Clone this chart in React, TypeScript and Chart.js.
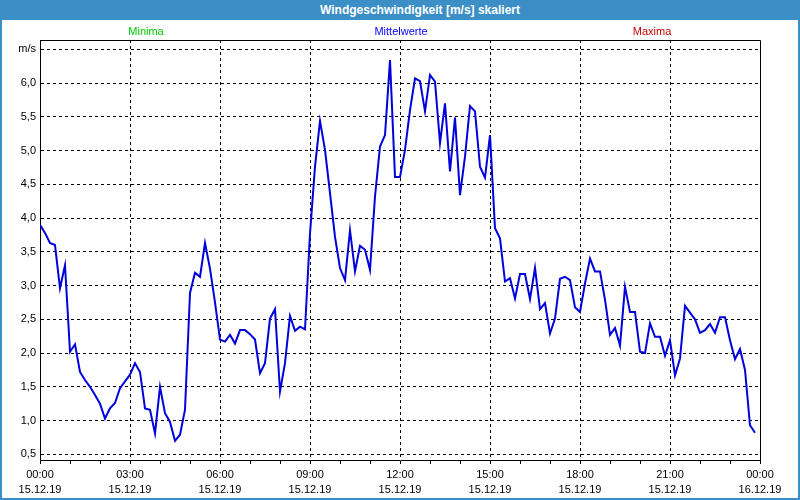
import React, { useEffect, useRef } from "react";
import { Chart, registerables } from "chart.js";

Chart.register(...registerables);

const chartTitle = "Windgeschwindigkeit [m/s] skaliert";
const legendNames = ["Minima", "Mittelwerte", "Maxima"];
const legendColors = ["#00c800", "#0000ff", "#c80000"];

// 10-minute means, 15.12.19 00:00 .. 23:50
const windValues = [
  3.9, 3.78, 3.63, 3.6, 2.96, 3.3, 2.02, 2.13, 1.72, 1.6, 1.5, 1.38,
  1.25, 1.03, 1.18, 1.26, 1.48, 1.58, 1.68, 1.85, 1.72, 1.18, 1.16, 0.81,
  1.5, 1.11, 0.98, 0.7, 0.79, 1.16, 2.89, 3.19, 3.13, 3.63, 3.25, 2.75,
  2.2, 2.17, 2.27, 2.14, 2.34, 2.34, 2.28, 2.2, 1.7, 1.85, 2.51, 2.65,
  1.43, 1.85, 2.55, 2.33, 2.39, 2.35, 3.77, 4.76, 5.44, 5.01, 4.37, 3.72,
  3.26, 3.08, 3.82, 3.21, 3.59, 3.53, 3.23, 4.32, 5.06, 5.23, 6.34, 4.61,
  4.61, 5.01, 5.6, 6.07, 6.03, 5.58, 6.12, 6.02, 5.11, 5.7, 4.69, 5.49,
  4.34, 4.91, 5.66, 5.58, 4.76, 4.6, 5.23, 3.85, 3.7, 3.06, 3.11, 2.81,
  3.17, 3.17, 2.8, 3.26, 2.65, 2.74, 2.29, 2.51, 3.1, 3.13, 3.08, 2.68,
  2.61, 3.03, 3.4, 3.21, 3.21, 2.79, 2.27, 2.37, 2.11, 2.98, 2.61, 2.61,
  2.02, 2.0, 2.44, 2.24, 2.24, 1.96, 2.19, 1.67, 1.92, 2.7, 2.6, 2.5,
  2.3, 2.34, 2.43, 2.3, 2.53, 2.53, 2.19, 1.91, 2.06, 1.75, 0.93, 0.82,
];
const minutesPerPoint = 10;

const xLabelTimes = ["00:00", "03:00", "06:00", "09:00", "12:00", "15:00", "18:00", "21:00", "00:00"];
const xLabelDates = ["15.12.19", "15.12.19", "15.12.19", "15.12.19", "15.12.19", "15.12.19", "15.12.19", "15.12.19", "16.12.19"];
const xHourTicks = Array.from({ length: 25 }, (_, i) => i);

const yTickValues = [0.5, 1, 1.5, 2, 2.5, 3, 3.5, 4, 4.5, 5, 5.5, 6, 6.5];
const yTickLabels = ["0,5", "1,0", "1,5", "2,0", "2,5", "3,0", "3,5", "4,0", "4,5", "5,0", "5,5", "6,0", "m/s"];

const FONT = "'Liberation Sans', Arial, sans-serif";
const FRAME_BLUE = "#3c8fc6";

const boxPlugin = {
  id: "frameBox",
  afterDraw(chart: any) {
    const { ctx, chartArea } = chart;
    const l = Math.round(chartArea.left) + 0.5;
    const r = Math.round(chartArea.right) + 0.5;
    const t = Math.round(chartArea.top) + 0.5;
    ctx.save();
    ctx.strokeStyle = "#000";
    ctx.lineWidth = 1;
    ctx.setLineDash([]);
    ctx.beginPath();
    ctx.moveTo(l, t);
    ctx.lineTo(r, t);
    ctx.lineTo(r, Math.round(chartArea.bottom) + 0.5);
    ctx.stroke();
    ctx.restore();
  },
};

export default function App() {
  const canvasRef = useRef<HTMLCanvasElement | null>(null);

  useEffect(() => {
    if (!canvasRef.current) return;
    const chart = new Chart(canvasRef.current, {
      type: "line",
      data: {
        datasets: [
          {
            label: legendNames[1],
            data: windValues.map((v, i) => ({ x: (i * minutesPerPoint) / 60, y: v })),
            borderColor: "#0000dd",
            backgroundColor: "#0000dd",
            borderWidth: 2,
            pointRadius: 0,
            tension: 0,
            fill: false,
          },
        ],
      },
      options: {
        animation: false,
        responsive: false,
        devicePixelRatio: 1,
        layout: { padding: { top: 40, right: 40, left: 0, bottom: 0 } },
        plugins: {
          legend: { display: false },
          title: { display: false },
          tooltip: { enabled: false },
        },
        scales: {
          x: {
            type: "linear",
            min: 0,
            max: 24,
            afterBuildTicks: (s: any) => {
              s.ticks = xHourTicks.map((v) => ({ value: v }));
            },
            afterFit: (s: any) => {
              s.height = 40;
            },
            ticks: {
              autoSkip: false,
              maxRotation: 0,
              minRotation: 0,
              padding: 3,
              color: "#000",
              font: { family: FONT, size: 11, lineHeight: 15 / 11 },
              callback: (v: any) => {
                const n = Number(v);
                if (n % 3 !== 0) return "";
                return [xLabelTimes[n / 3], xLabelDates[n / 3]];
              },
            },
            grid: {
              color: (ctx: any) => {
                const v = ctx.tick ? ctx.tick.value : -1;
                return v % 3 === 0 && v > 0 && v < 24 ? "#000" : "rgba(0,0,0,0)";
              },
              tickColor: "#000",
              tickLength: 4,
              lineWidth: 1,
            },
            border: { display: true, color: "#000", width: 1, dash: [3, 3] },
          },
          y: {
            type: "linear",
            min: 0.4156,
            max: 6.638,
            afterBuildTicks: (s: any) => {
              s.ticks = yTickValues.map((v) => ({ value: v }));
            },
            afterFit: (s: any) => {
              s.width = 40;
            },
            ticks: {
              padding: 4,
              color: "#000",
              font: { family: FONT, size: 11 },
              callback: (v: any) => {
                const idx = yTickValues.indexOf(Number(v));
                return idx >= 0 ? yTickLabels[idx] : "";
              },
            },
            grid: {
              color: "#000",
              lineWidth: 1,
              drawTicks: false,
            },
            border: { display: true, color: "#000", width: 1, dash: [3, 3] },
          },
        },
      },
      plugins: [boxPlugin],
    } as any);
    return () => chart.destroy();
  }, []);

  const legendCenters = [146, 401, 652];

  return (
    <div
      style={{
        position: "fixed",
        left: 0,
        top: 0,
        width: 800,
        height: 500,
        background: "#fff",
        fontFamily: FONT,
        overflow: "hidden",
      }}
    >
      <canvas
        ref={canvasRef}
        width={800}
        height={500}
        style={{ position: "absolute", left: 0, top: 0, width: 800, height: 500 }}
      />
      <div
        style={{
          position: "absolute",
          left: 0,
          top: 0,
          width: 800,
          height: 500,
          boxSizing: "border-box",
          border: `2px solid ${FRAME_BLUE}`,
          pointerEvents: "none",
        }}
      />
      <div
        style={{
          position: "absolute",
          left: 0,
          top: 0,
          width: 800,
          height: 20,
          background: FRAME_BLUE,
        }}
      >
        <span
          style={{
            position: "absolute",
            left: 420,
            top: 0,
            transform: "translateX(-50%)",
            lineHeight: "20px",
            fontSize: 12,
            fontWeight: "bold",
            color: "#fff",
            whiteSpace: "nowrap",
          }}
        >
          {chartTitle}
        </span>
      </div>
      {legendNames.map((name, i) => (
        <span
          key={name}
          style={{
            position: "absolute",
            left: legendCenters[i],
            top: 24,
            transform: "translateX(-50%)",
            lineHeight: "14px",
            fontSize: 11,
            color: legendColors[i],
            whiteSpace: "nowrap",
          }}
        >
          {name}
        </span>
      ))}
    </div>
  );
}
